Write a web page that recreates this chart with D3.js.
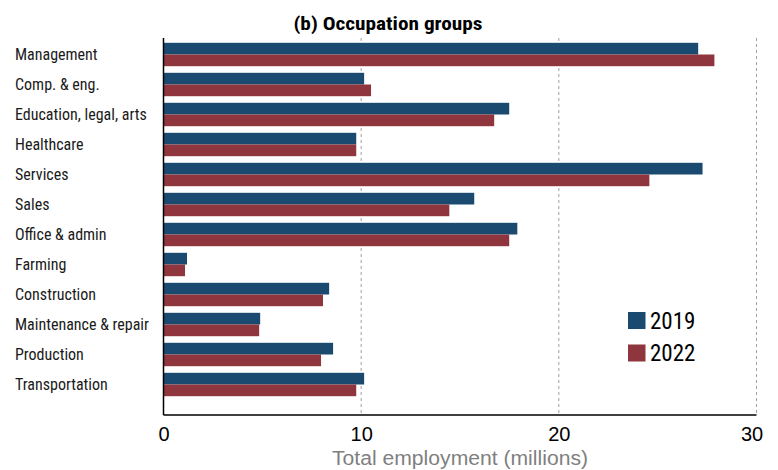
<!DOCTYPE html>
<html>
<head>
<meta charset="utf-8">
<script src="https://cdn.jsdelivr.net/npm/d3@7"></script>
<style>
  body { margin: 0; background: #fff; }
  svg { display: block; }
  .narrow { font-family: "Liberation Sans Narrow", "Roboto Condensed", "Liberation Sans", sans-serif; }
  .wide { font-family: "Liberation Sans", Arial, sans-serif; }
</style>
</head>
<body>
<svg id="chart" width="778" height="470"></svg>
<script>
// Employment by occupation group (millions)
const categories = [
  "Management", "Comp. & eng.", "Education, legal, arts", "Healthcare",
  "Services", "Sales", "Office & admin", "Farming", "Construction",
  "Maintenance & repair", "Production", "Transportation"
];
const values2019 = [27.05, 10.15, 17.49, 9.75, 27.27, 15.72, 17.9, 1.19, 8.38, 4.89, 8.58, 10.15];
const values2022 = [27.87, 10.5, 16.73, 9.75, 24.58, 14.46, 17.49, 1.09, 8.07, 4.84, 7.97, 9.75];
const seriesNames = ["2019", "2022"];
const xTicks = [0, 10, 20, 30];

const colors = { "2019": "#1b4a70", "2022": "#8e353d" };

const svg = d3.select("#chart");
const plotLeft = 163.5, plotRight = 756.5, plotTop = 38, plotBottom = 415;

const x = d3.scaleLinear().domain([0, 30]).range([plotLeft, plotRight]);
const y = d3.scaleBand().domain(categories).range([38, 401])
  .paddingInner(0.22).paddingOuter(0.16);
const ySub = d3.scaleBand().domain(seriesNames).range([0, y.bandwidth()]);

const rows = categories.map((c, i) => ({ cat: c, "2019": values2019[i], "2022": values2022[i] }));

// dashed vertical gridlines
svg.append("g").selectAll("line").data(xTicks.filter(t => t > 0)).join("line")
  .attr("x1", d => x(d)).attr("x2", d => x(d))
  .attr("y1", plotTop).attr("y2", plotBottom)
  .attr("stroke", "#a0a0a0").attr("stroke-width", 1)
  .attr("stroke-dasharray", "3,3");

// bars
const groups = svg.append("g").selectAll("g").data(rows).join("g")
  .attr("transform", d => `translate(0,${y(d.cat)})`);
groups.selectAll("rect").data(d => seriesNames.map(s => ({ s, v: d[s] }))).join("rect")
  .attr("x", x(0))
  .attr("y", d => ySub(d.s))
  .attr("width", d => x(d.v) - x(0))
  .attr("height", ySub.bandwidth())
  .attr("fill", d => colors[d.s]);

// axes lines
svg.append("line").attr("x1", plotLeft).attr("x2", plotLeft).attr("y1", plotTop).attr("y2", plotBottom)
  .attr("stroke", "#000").attr("stroke-width", 1.5);
svg.append("line").attr("x1", plotLeft).attr("x2", plotRight).attr("y1", plotBottom).attr("y2", plotBottom)
  .attr("stroke", "#000").attr("stroke-width", 1.5);

// x axis tick labels (last one nudged inward to stay inside the frame)
const xAxis = d3.axisBottom(x).tickValues(xTicks).tickSize(0).tickPadding(12);
const gx = svg.append("g").attr("transform", `translate(0,${plotBottom})`).call(xAxis);
gx.select(".domain").remove();
gx.selectAll("text").attr("class", "wide").attr("font-size", 20).attr("fill", "#000")
  .attr("dx", d => d === 30 ? -5 : 0);

// category labels
const yAxis = d3.axisLeft(y).tickSize(0);
const gy = svg.append("g").call(yAxis);
gy.select(".domain").remove();
gy.selectAll("text")
  .attr("class", "narrow")
  .attr("x", 15).attr("text-anchor", "start")
  .attr("font-size", 16).attr("fill", "#1a1a1a");

// axis title
svg.append("text").attr("class", "wide")
  .attr("x", (plotLeft + plotRight) / 2).attr("y", 465)
  .attr("text-anchor", "middle").attr("font-size", 20).attr("fill", "#7f7f7f")
  .attr("textLength", 256).attr("lengthAdjust", "spacingAndGlyphs")
  .text("Total employment (millions)");

// chart title
svg.append("text").attr("class", "narrow")
  .attr("x", 388).attr("y", 30)
  .attr("text-anchor", "middle").attr("font-size", 18.5).attr("font-weight", "bold")
  .attr("fill", "#000")
  .attr("textLength", 189).attr("lengthAdjust", "spacingAndGlyphs")
  .text("(b) Occupation groups");

// legend
const legend = svg.append("g").attr("transform", "translate(628,312)");
const li = legend.selectAll("g").data(seriesNames).join("g")
  .attr("transform", (d, i) => `translate(0,${i * 32.5})`);
li.append("rect").attr("width", 17.5).attr("height", 17).attr("fill", d => colors[d]);
li.append("text").attr("class", "narrow")
  .attr("x", 22).attr("y", 16.5).attr("font-size", 23).attr("fill", "#000")
  .text(d => d);
</script>
</body>
</html>
